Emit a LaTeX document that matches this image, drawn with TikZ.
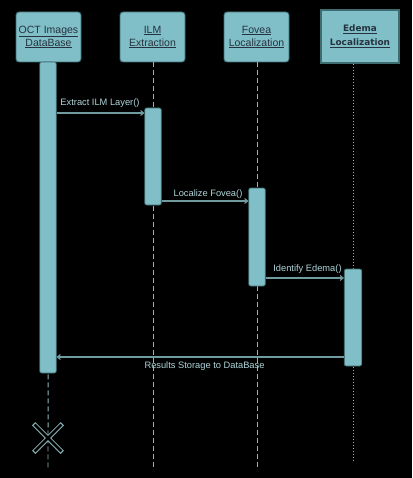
\documentclass[tikz,border=0pt]{standalone}
\usepackage{fontspec}
\setmainfont{Liberation Sans}
\newfontfamily\edfont{DejaVu Sans}
\usetikzlibrary{arrows.meta,shapes.misc}
\definecolor{boxfill}{HTML}{80BFC7}
\definecolor{boxline}{HTML}{3E6C70}
\definecolor{lifec}{HTML}{8CB9BD}
\definecolor{msgc}{HTML}{6E9C9F}
\definecolor{labc}{HTML}{B0D6DA}
\definecolor{headtxt}{HTML}{26323F}
\tikzset{
  x=1pt,y=-1pt,
  head/.style={draw=boxline,fill=boxfill,line width=0.9pt,rounded corners=3pt,
    minimum width=65pt,minimum height=50pt,inner sep=0pt,align=center,
    text=headtxt,font=\fontsize{10.5}{13}\selectfont},
  headb/.style={draw=boxline,fill=boxfill,line width=1.4pt,
    minimum width=78pt,minimum height=53pt,inner sep=0pt,align=center,
    text=headtxt,font=\edfont\bfseries\fontsize{8.9}{14}\selectfont},
  bar/.style={draw=boxline,fill=boxfill,line width=0.7pt,rounded corners=2pt,
    minimum width=16.5pt,inner sep=0pt},
  life/.style={draw=lifec,line width=0.9pt,dash pattern=on 5pt off 3pt},
  lifedot/.style={draw=lifec,line width=0.9pt,dash pattern=on 1.5pt off 1.5pt},
  msg/.style={draw=msgc,line width=1.1pt,-{Straight Barb[length=3pt,width=5pt]}},
  lab/.style={text=labc,font=\fontsize{9.3}{11}\selectfont,inner sep=1pt},
}
\begin{document}
\begin{tikzpicture}
\fill[black] (0,0) rectangle (412,478);
\useasboundingbox (0,0) rectangle (412,478);
% headers
\node[head] (h1) at (48.5,37) {\underline{OCT Images}\\\underline{DataBase}};
\node[head] (h2) at (152.5,37) {\underline{ILM}\\\underline{Extraction}};
\node[head] (h3) at (256.5,37) {\underline{Fovea}\\\underline{Localization}};
\node[headb] (h4) at (360,36.5) {\underline{Edema}\\\underline{Localization}};
% lifeline ends
\coordinate (e1) at (48,470);
\coordinate (e2) at (153,467);
\coordinate (e3) at (257,467);
\coordinate (e4) at (353,462);
\draw[life] (h1.south) -- (e1);
\draw[life] (h2.south -| e2) -- (e2);
\draw[life] (h3.south -| e3) -- (e3);
\draw[lifedot] (h4.south -| e4) -- (e4);
% activation bars
\node[bar,minimum height=311pt] (b1) at (48,217.5) {};
\node[bar,minimum height=97pt] (b2) at (153,156.5) {};
\node[bar,minimum height=98pt] (b3) at (257,237) {};
\node[bar,minimum height=97pt,minimum width=17.5pt] (b4) at (353,317.5) {};
% messages
\coordinate (m1) at (0,113);
\coordinate (m2) at (0,201);
\coordinate (m3) at (0,278);
\coordinate (m4) at (0,357);
\draw[msg] (b1.east |- m1) -- (b2.west |- m1);
\draw[msg] (b2.east |- m2) -- (b3.west |- m2);
\draw[msg] (b3.east |- m3) -- (b4.west |- m3);
\draw[msg] (b4.west |- m4) -- (b1.east |- m4);
\node[lab] (l1) at (100,103.5) {Extract ILM Layer()};
\node[lab] (l2) at (208,194) {Localize Fovea()};
\node[lab] (l3) at (307.5,269.5) {Identify Edema()};
\node[lab] (l4) at (204.5,366.5) {Results Storage to DataBase};
% destruction mark
\node[cross out,draw=lifec,line width=4.6pt,minimum size=24pt,inner sep=0pt] (xm) at (48,438) {};
\node[cross out,draw=black,line width=2.8pt,minimum size=24pt,inner sep=0pt] (xm2) at (48,438) {};
\end{tikzpicture}
\end{document}
